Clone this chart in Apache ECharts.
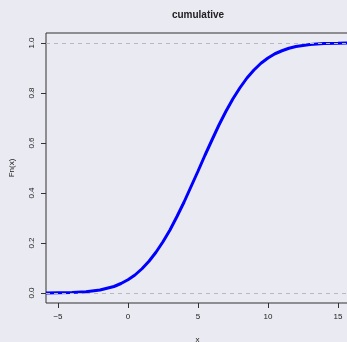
<!DOCTYPE html>
<html><head><meta charset="utf-8">
<script src="https://cdn.jsdelivr.net/npm/echarts@6/dist/echarts.min.js"></script>
<style>html,body{margin:0;padding:0;background:#EAEAF2;}#c{width:347px;height:342px;}</style>
</head><body><div id="c"></div>
<script>
const xValues = [-5.86,-5,-4,-3,-2,-1,-0.5,0,0.5,1,1.5,2,2.5,3,3.5,4,4.5,5,5.5,6,6.5,7,7.5,8,8.5,9,9.5,10,10.5,11,11.5,12,13,14,15,15.8];
const yValues = [0,0.001,0.002,0.005,0.012,0.026,0.038,0.053,0.072,0.097,0.127,0.163,0.205,0.252,0.306,0.363,0.425,0.487,0.551,0.612,0.672,0.727,0.777,0.821,0.860,0.892,0.919,0.940,0.957,0.969,0.979,0.986,0.994,0.998,0.999,1];
const xTicks = [-5,0,5,10,15];
const yTicks = [0,0.2,0.4,0.6,0.8,1.0];
const refLines = [0,1];
const font = 'Liberation Sans, Arial, sans-serif';
const chart = echarts.init(document.getElementById('c'));
chart.setOption({
  backgroundColor: '#EAEAF2',
  animation: false,
  title: {text: 'cumulative', left: 193, top: 5, textAlign: 'center',
    textStyle: {fontSize: 10, fontWeight: 'bold', color: '#222', fontFamily: font}},
  grid: {left: 46, right: -2, top: 33, bottom: 39, show: true, borderColor: '#333', borderWidth: 1,
    backgroundColor: 'transparent', containLabel: false, outerBoundsMode: 'none'},
  xAxis: {type: 'value', min: -5.857, max: 15.79, name: 'x', nameLocation: 'middle', nameGap: 33,
    nameTextStyle: {fontSize: 8, color: '#222', fontFamily: font},
    splitLine: {show: false}, axisLine: {show: false, onZero: false},
    axisTick: {show: true, length: 5, customValues: xTicks, lineStyle: {color: '#333'}},
    axisLabel: {customValues: xTicks, fontSize: 8, color: '#222', margin: 10, fontFamily: font,
      formatter: v => (v < 0 ? '\u2212' + (-v) : String(v))}},
  yAxis: {type: 'value', min: -0.04, max: 1.04, name: 'Fn(x)', nameLocation: 'middle', nameGap: 30, nameRotate: 90,
    nameTextStyle: {fontSize: 8, color: '#222', fontFamily: font},
    splitLine: {show: false}, axisLine: {show: false, onZero: false},
    axisTick: {show: true, length: 5, customValues: yTicks, lineStyle: {color: '#333'}},
    axisLabel: {customValues: yTicks, rotate: 90, fontSize: 8, color: '#222', margin: 10, fontFamily: font,
      formatter: v => v.toFixed(1)}},
  series: [{type: 'line', data: xValues.map((x, i) => [x, yValues[i]]), showSymbol: false,
    lineStyle: {color: '#0000FF', width: 3}, itemStyle: {color: '#0000FF'},
    markLine: {silent: true, symbol: 'none', label: {show: false},
      lineStyle: {color: '#b8b8c0', type: [4, 4], width: 1},
      data: refLines.map(v => ({yAxis: v}))}}]
});
</script></body></html>
